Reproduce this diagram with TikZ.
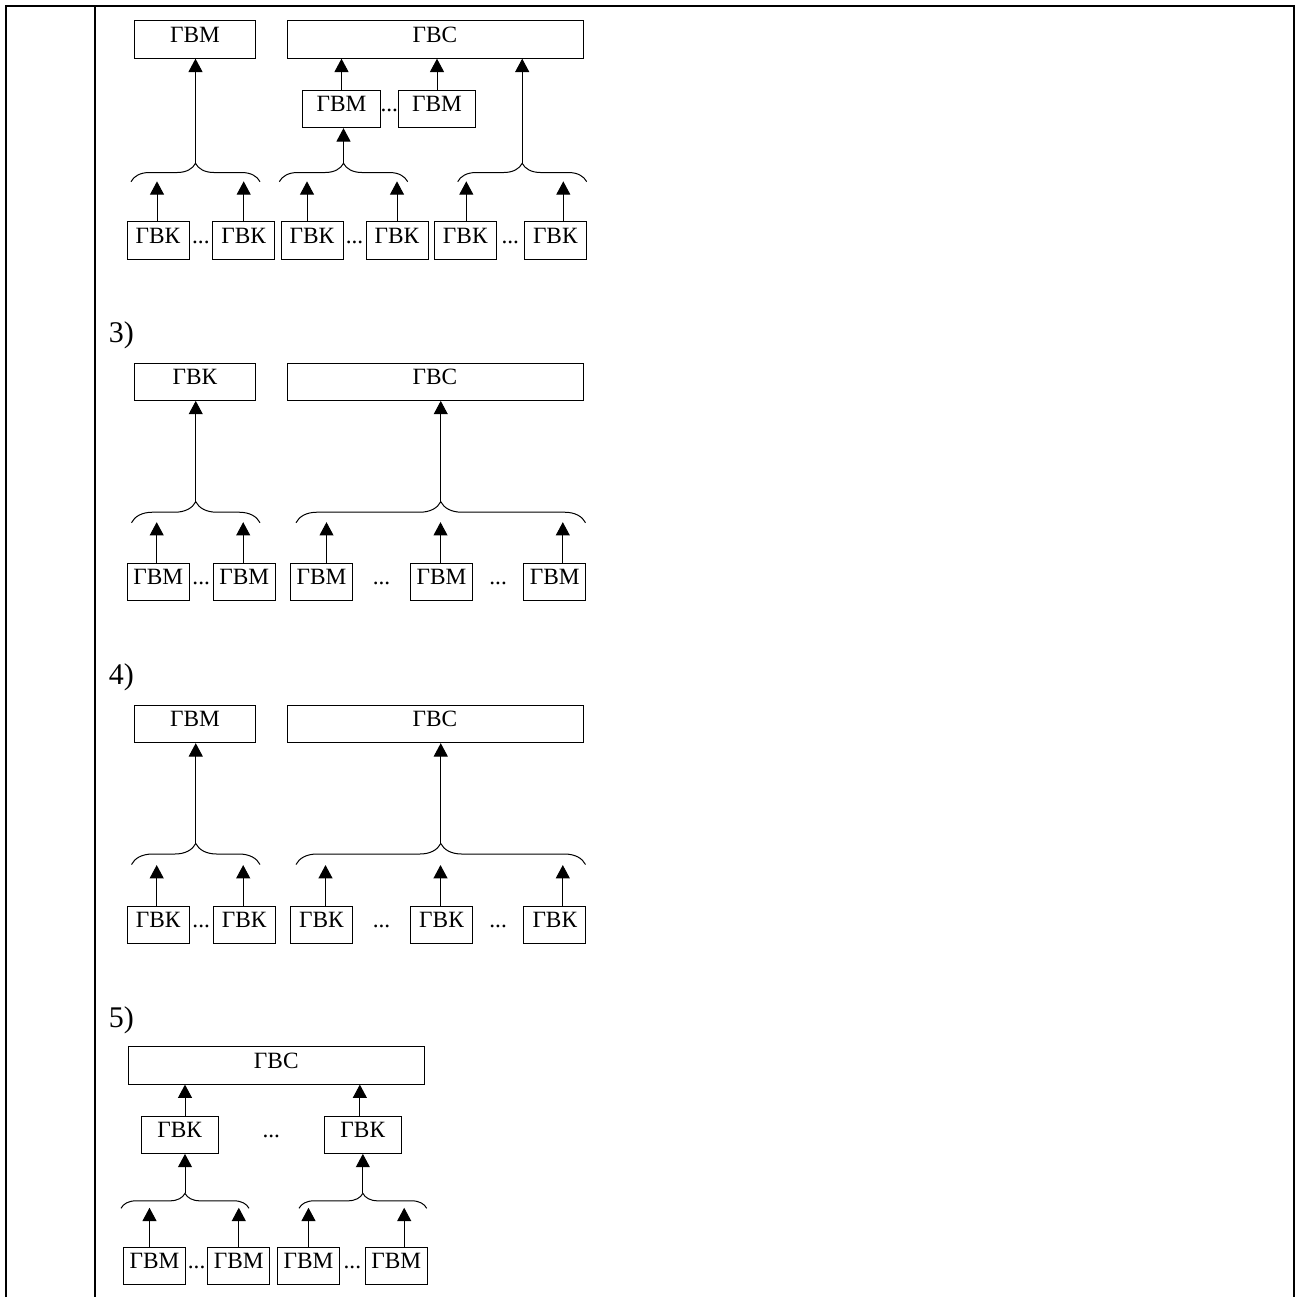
\documentclass[tikz,border=0pt]{standalone}
\usepackage{fontspec}
\setmainfont{Liberation Serif}
\usepackage{tikz}
\usetikzlibrary{arrows.meta,calc,decorations.pathreplacing}

\begin{document}
\begin{tikzpicture}[
    x=0.75pt, y=-0.75pt,
    box/.style={rectangle, draw, line width=0.75pt, minimum height=28pt, inner sep=0pt, font=\fontsize{17.5}{19}\selectfont, text height=0.68em, text depth=0.28em},
    wide/.style={box, minimum width=222pt},
    big/.style={box, minimum width=91pt},
    mid/.style={box, minimum width=58pt},
    small/.style={box, minimum width=46.5pt},
    dots/.style={anchor=base, inner sep=0pt, font=\fontsize{17.5}{19}\selectfont},
    numlabel/.style={anchor=base west, inner sep=0pt, font=\fontsize{22.5}{26}\selectfont},
    arr/.style={line width=0.75pt, -{Triangle[length=10pt,width=10.5pt]}},
    brace/.style={decorate, line width=0.75pt, decoration={brace, amplitude=#1}},
    tableline/.style={line width=1.6pt}
]
\useasboundingbox (0,0) rectangle (1301,1297);

% Table frame
\draw[tableline] (6,1297) -- (6,6) -- (1294,6) -- (1294,1297);
\draw[tableline] (95,6) -- (95,1297);

% Diagram 2 - top row
\node[big]  (a-top1) at (195, 39.5) {ГВМ};
\node[wide] (a-top2) at (435, 39.5) {ГВС};

% Diagram 2 - middle row
\node[mid] (a-mid1) at (341.5, 109) {ГВМ};
\node[mid] (a-mid2) at (437, 109) {ГВМ};
\node[dots] (a-d0) at ($(a-mid1.base)!.5!(a-mid2.base)$) {...};
\draw[arr] (a-mid1.north) -- (a-mid1.north |- a-top2.south);
\draw[arr] (a-mid2.north) -- (a-mid2.north |- a-top2.south);

% Diagram 2 - braces
\coordinate (a-b1l) at (131, 181.7);   \coordinate (a-b1r) at (260, 181.7);
\coordinate (a-b2l) at (279.3, 181.7); \coordinate (a-b2r) at (407.7, 181.7);
\coordinate (a-b3l) at (457.7, 181.7); \coordinate (a-b3r) at (586.7, 181.7);
\draw[brace=13.8pt] (a-b1l) -- (a-b1r);
\draw[brace=13.8pt] (a-b2l) -- (a-b2r);
\draw[brace=13.8pt] (a-b3l) -- (a-b3r);
\coordinate (a-t1) at ($(a-b1l)!.5!(a-b1r)+(0,-18.4)$);
\coordinate (a-t2) at ($(a-b2l)!.5!(a-b2r)+(0,-18.4)$);
\coordinate (a-t3) at ($(a-b3l)!.5!(a-b3r)+(0,-18.4)$);
\draw[arr] (a-t1) -- (a-t1 |- a-top1.south);
\draw[arr] (a-t2) -- (a-t2 |- a-mid1.south);
\draw[arr] (a-t3) -- (a-t3 |- a-top2.south);

% Diagram 2 - bottom row
\node[small] (a-k1) at (158, 240.5)   {ГВК};
\node[small] (a-k2) at (243.7, 240.5) {ГВК};
\node[small] (a-k3) at (312, 240.5)   {ГВК};
\node[small] (a-k4) at (397, 240.5)   {ГВК};
\node[small] (a-k5) at (465.3, 240.5) {ГВК};
\node[small] (a-k6) at (555.3, 240.5) {ГВК};
\node[dots] (a-d1) at ($(a-k1.base)!.5!(a-k2.base)$) {...};
\node[dots] (a-d2) at ($(a-k3.base)!.5!(a-k4.base)$) {...};
\node[dots] (a-d3) at ($(a-k5.base)!.5!(a-k6.base)$) {...};
\draw[arr] ($(a-k1.north)+(-1,0)$) -- ++(0,-40);
\draw[arr] (a-k2.north) -- ++(0,-40);
\draw[arr] ($(a-k3.north)+(-5,0)$) -- ++(0,-40);
\draw[arr] (a-k4.north) -- ++(0,-40);
\draw[arr] ($(a-k5.north)+(1,0)$) -- ++(0,-40);
\draw[arr] ($(a-k6.north)+(8,0)$) -- ++(0,-40);

% Diagram 3
\node[numlabel] (c-lab) at (108.5, 342.5) {3)};
\node[big]  (c-top1) at (195, 381.7) {ГВК};
\node[wide] (c-top2) at (435, 381.7) {ГВС};
\coordinate (c-b1l) at (131.5, 522.7); \coordinate (c-b1r) at (260, 522.7);
\coordinate (c-b2l) at (296, 522.7);   \coordinate (c-b2r) at (585.5, 522.7);
\draw[brace=15.75pt] (c-b1l) -- (c-b1r);
\draw[brace=15.75pt] (c-b2l) -- (c-b2r);
\coordinate (c-t1) at ($(c-b1l)!.5!(c-b1r)+(0,-21)$);
\coordinate (c-t2) at ($(c-b2l)!.5!(c-b2r)+(0,-21)$);
\draw[arr] (c-t1) -- (c-t1 |- c-top1.south);
\draw[arr] (c-t2) -- (c-t2 |- c-top2.south);
\node[small] (c-m1) at (158.2, 582.3) {ГВМ};
\node[small] (c-m2) at (244.2, 582.3) {ГВМ};
\node[small] (c-m3) at (321.5, 582.3) {ГВМ};
\node[small] (c-m4) at (441.5, 582.3) {ГВМ};
\node[small] (c-m5) at (554.8, 582.3) {ГВМ};
\node[dots] (c-d1) at ($(c-m1.base)!.5!(c-m2.base)$) {...};
\node[dots] (c-d2) at ($(c-m3.base)!.5!(c-m4.base)$) {...};
\node[dots] (c-d3) at ($(c-m4.base)!.5!(c-m5.base)$) {...};
\draw[arr] ($(c-m1.north)+(-1.5,0)$) -- ++(0,-41);
\draw[arr] ($(c-m2.north)+(-1,0)$) -- ++(0,-41);
\draw[arr] ($(c-m3.north)+(5,0)$) -- ++(0,-41);
\draw[arr] ($(c-m4.north)+(-1,0)$) -- ++(0,-41);
\draw[arr] ($(c-m5.north)+(8,0)$) -- ++(0,-41);

% Diagram 4
\node[numlabel] (d-lab) at (108.5, 684.8) {4)};
\node[big]  (d-top1) at (195, 724) {ГВМ};
\node[wide] (d-top2) at (435, 724) {ГВС};
\coordinate (d-b1l) at (131.5, 864.5); \coordinate (d-b1r) at (260, 864.5);
\coordinate (d-b2l) at (296, 864.5);   \coordinate (d-b2r) at (585.5, 864.5);
\draw[brace=15.75pt] (d-b1l) -- (d-b1r);
\draw[brace=15.75pt] (d-b2l) -- (d-b2r);
\coordinate (d-t1) at ($(d-b1l)!.5!(d-b1r)+(0,-21)$);
\coordinate (d-t2) at ($(d-b2l)!.5!(d-b2r)+(0,-21)$);
\draw[arr] (d-t1) -- (d-t1 |- d-top1.south);
\draw[arr] (d-t2) -- (d-t2 |- d-top2.south);
\node[small] (d-k1) at (158.2, 924.7) {ГВК};
\node[small] (d-k2) at (244.2, 924.7) {ГВК};
\node[small] (d-k3) at (321.5, 924.7) {ГВК};
\node[small] (d-k4) at (441.5, 924.7) {ГВК};
\node[small] (d-k5) at (554.8, 924.7) {ГВК};
\node[dots] (d-d1) at ($(d-k1.base)!.5!(d-k2.base)$) {...};
\node[dots] (d-d2) at ($(d-k3.base)!.5!(d-k4.base)$) {...};
\node[dots] (d-d3) at ($(d-k4.base)!.5!(d-k5.base)$) {...};
\draw[arr] ($(d-k1.north)+(-1.5,0)$) -- ++(0,-40.5);
\draw[arr] ($(d-k2.north)+(-1,0)$) -- ++(0,-40.5);
\draw[arr] ($(d-k3.north)+(4,0)$) -- ++(0,-40.5);
\draw[arr] ($(d-k4.north)+(-1,0)$) -- ++(0,-40.5);
\draw[arr] ($(d-k5.north)+(8,0)$) -- ++(0,-40.5);

% Diagram 5
\node[numlabel] (e-lab) at (108.5, 1027.3) {5)};
\node[wide] (e-top) at (276.3, 1065.4) {ГВС};
\node[mid]  (e-k1) at (179.7, 1134.7) {ГВК};
\node[mid]  (e-k2) at (362.8, 1134.7) {ГВК};
\node[dots] (e-d0) at ($(e-k1.base)!.5!(e-k2.base)$) {...};
\coordinate (e-b1l) at (121, 1208.3); \coordinate (e-b1r) at (249, 1208.3);
\coordinate (e-b2l) at (299, 1208.3); \coordinate (e-b2r) at (426.7, 1208.3);
\draw[brace=11.25pt] (e-b1l) -- (e-b1r);
\draw[brace=11.25pt] (e-b2l) -- (e-b2r);
\coordinate (e-t1) at ($(e-b1l)!.5!(e-b1r)+(0,-15)$);
\coordinate (e-t2) at ($(e-b2l)!.5!(e-b2r)+(0,-15)$);
\draw[arr] (e-t1) -- (e-t1 |- e-k1.south);
\draw[arr] (e-t2) -- (e-t2 |- e-k2.south);
\draw[arr] (e-t1 |- e-k1.north) -- (e-t1 |- e-top.south);
\draw[arr] ($(e-t2 |- e-k2.north)+(-3,0)$) -- ($(e-t2 |- e-top.south)+(-3,0)$);
\node[small] (e-m1) at (154.5, 1266.3) {ГВМ};
\node[small] (e-m2) at (238.8, 1266.3) {ГВМ};
\node[small] (e-m3) at (308.5, 1266.3) {ГВМ};
\node[small] (e-m4) at (396.2, 1266.3) {ГВМ};
\node[dots] (e-d1) at ($(e-m1.base)!.5!(e-m2.base)$) {...};
\node[dots] (e-d2) at ($(e-m3.base)!.5!(e-m4.base)$) {...};
\draw[arr] ($(e-m1.north)+(-5,0)$) -- ++(0,-39.4);
\draw[arr] (e-m2.north) -- ++(0,-39.4);
\draw[arr] (e-m3.north) -- ++(0,-39.4);
\draw[arr] ($(e-m4.north)+(8,0)$) -- ++(0,-39.4);

\end{tikzpicture}
\end{document}
